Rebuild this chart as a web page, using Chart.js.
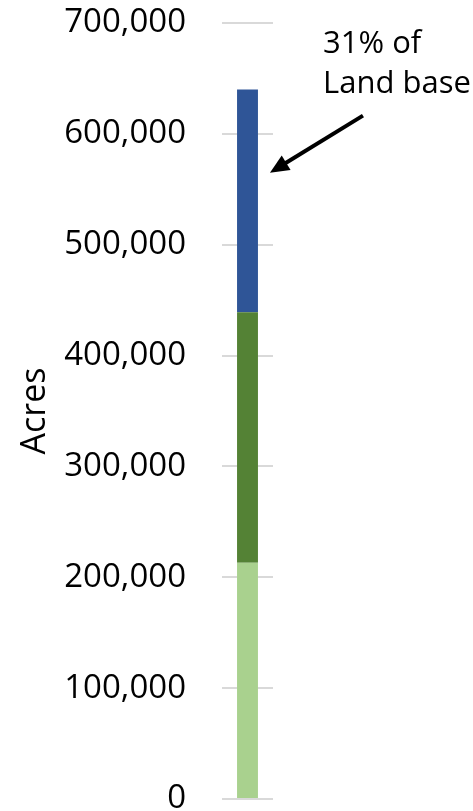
<!DOCTYPE html>
<html>
<head>
<meta charset="utf-8">
<script src="https://cdn.jsdelivr.net/npm/chart.js@4/dist/chart.umd.min.js"></script>
<style>
  html, body { margin: 0; padding: 0; background: #ffffff; }
  #wrap { position: relative; width: 473px; height: 811px; }
</style>
</head>
<body>
<div id="wrap"><canvas id="c" width="473" height="811"></canvas></div>
<script>
const categories = ["Land base"];
const seriesNames = ["Segment 1", "Segment 2", "Segment 3"];
const segment1 = [213000];
const segment2 = [226000];
const segment3 = [201000];
const colors = ["#A9D18E", "#548235", "#2F5597"];
const yTicks = [0, 100000, 200000, 300000, 400000, 500000, 600000, 700000];
const annotationLines = ["31% of", "Land base"];
const arrowTipValue = 565000;

const FONT = "'Open Sans', 'Liberation Sans', sans-serif";

const annotationPlugin = {
  id: 'annot',
  afterDraw(chart) {
    const ctx = chart.ctx;
    const y = chart.scales.y;
    const area = chart.chartArea;
    const meta = chart.getDatasetMeta(2);
    const bar = meta.data[0];
    const barRight = bar.x + bar.width / 2;
    ctx.save();
    ctx.fillStyle = '#000';
    ctx.font = "31px " + FONT;
    ctx.textAlign = 'left';
    ctx.textBaseline = 'alphabetic';
    const tx = area.right + 50;
    ctx.fillText(annotationLines[0], tx, 53);
    ctx.fillText(annotationLines[1], tx, 93);
    // arrow
    const tipX = barRight + 12;
    const tipY = y.getPixelForValue(arrowTipValue);
    const tailX = tipX + 93;
    const tailY = tipY - 57;
    const ang = Math.atan2(tipY - tailY, tipX - tailX);
    const headLen = 19, headW = 8.5;
    const bx = tipX - headLen * Math.cos(ang);
    const by = tipY - headLen * Math.sin(ang);
    ctx.strokeStyle = '#000';
    ctx.lineWidth = 4;
    ctx.beginPath();
    ctx.moveTo(tailX, tailY);
    ctx.lineTo(bx + 2 * Math.cos(ang), by + 2 * Math.sin(ang));
    ctx.stroke();
    ctx.beginPath();
    ctx.moveTo(tipX, tipY);
    ctx.lineTo(bx + headW * Math.sin(ang), by - headW * Math.cos(ang));
    ctx.lineTo(bx - headW * Math.sin(ang), by + headW * Math.cos(ang));
    ctx.closePath();
    ctx.fill();
    ctx.restore();
  }
};

new Chart(document.getElementById('c'), {
  type: 'bar',
  data: {
    labels: categories,
    datasets: [
      { label: seriesNames[0], data: segment1, backgroundColor: colors[0] },
      { label: seriesNames[1], data: segment2, backgroundColor: colors[1] },
      { label: seriesNames[2], data: segment3, backgroundColor: colors[2] }
    ]
  },
  options: {
    responsive: false,
    animation: false,
    devicePixelRatio: 1,
    layout: { padding: { left: 0, right: 200, top: 23, bottom: 12 } },
    plugins: { legend: { display: false }, tooltip: { enabled: false } },
    datasets: { bar: { categoryPercentage: 1, barPercentage: 0.41, borderWidth: 0 } },
    scales: {
      x: {
        stacked: true,
        display: false
      },
      y: {
        stacked: true,
        min: 0,
        max: 700000,
        afterBuildTicks(scale) { scale.ticks = yTicks.map(v => ({ value: v })); },
        afterFit(scale) {
          scale.width = 222;
          scale.paddingTop = 0;
          scale.paddingBottom = 0;
        },
        border: { display: false },
        grid: { color: '#D9D9D9', lineWidth: 2, drawTicks: false },
        ticks: {
          color: '#000',
          padding: 36,
          font: { family: FONT, size: 33 },
          callback: v => v.toLocaleString('en-US')
        },
        title: {
          display: true,
          text: 'Acres',
          color: '#000',
          font: { family: FONT, size: 34 },
          padding: { top: 15, bottom: 0 }
        }
      }
    }
  },
  plugins: [annotationPlugin]
});
</script>
</body>
</html>
